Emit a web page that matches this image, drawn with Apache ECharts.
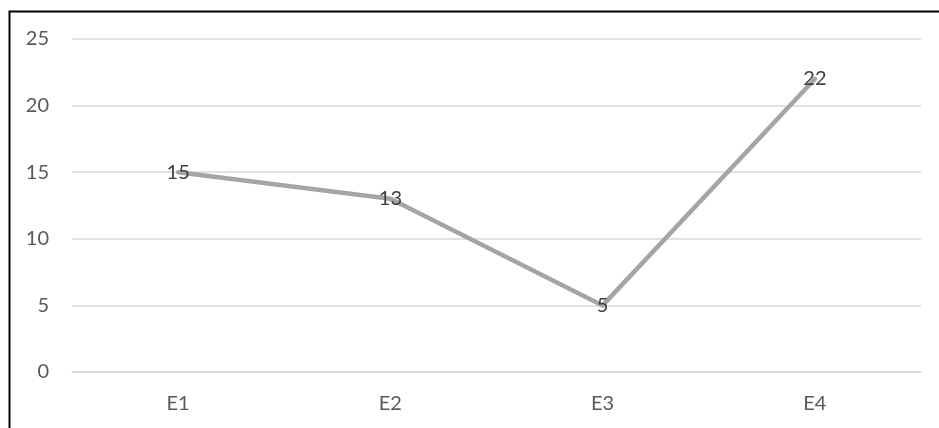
<!DOCTYPE html>
<html>
<head>
<meta charset="utf-8">
<style>
  html, body { margin: 0; padding: 0; background: #ffffff; }
  #chart { width: 939px; height: 428px; }
</style>
<script src="https://cdn.jsdelivr.net/npm/echarts@6/dist/echarts.min.js"></script>
</head>
<body>
<div id="chart"></div>
<script>
// Categories and values of the single line series
const categories = ['E1', 'E2', 'E3', 'E4'];
const values = [15, 13, 5, 22];
const yTicks = { min: 0, max: 25, interval: 5 };

const FONT = 'Lato, "Open Sans", sans-serif';

const chart = echarts.init(document.getElementById('chart'), null, { renderer: 'canvas' });

chart.setOption({
  animation: false,
  backgroundColor: '#ffffff',
  graphic: [
    {
      // frame around the chart area (left and top edges)
      type: 'rect',
      left: 7,
      top: 9,
      shape: { width: 1000, height: 1000 },
      style: { fill: 'none', stroke: '#000000', lineWidth: 2 },
      silent: true
    }
  ],
  grid: { left: 72, right: 18, top: 39, bottom: 56 },
  xAxis: {
    type: 'category',
    data: categories,
    boundaryGap: true,
    axisLine: { show: true, lineStyle: { color: '#d9d9d9', width: 1.5 } },
    axisTick: { show: false },
    axisLabel: { color: '#595959', fontSize: 20, fontFamily: FONT, margin: 22 }
  },
  yAxis: {
    type: 'value',
    min: yTicks.min,
    max: yTicks.max,
    interval: yTicks.interval,
    axisLine: { show: false },
    axisTick: { show: false },
    axisLabel: { color: '#595959', fontSize: 20, fontFamily: FONT, margin: 23 },
    splitLine: { lineStyle: { color: '#d9d9d9', width: 1.5 } }
  },
  series: [
    {
      type: 'line',
      data: values,
      symbol: 'circle',
      symbolSize: 2,
      showSymbol: true,
      itemStyle: { color: 'rgba(165,165,165,0)', borderWidth: 0 },
      lineStyle: { color: '#a5a5a5', width: 4.5, cap: 'round', join: 'round' },
      label: {
        show: true,
        position: 'inside',
        offset: [0, 1],
        color: '#404040',
        fontSize: 20,
        fontFamily: FONT
      },
      labelLayout: { hideOverlap: false }
    }
  ]
});
</script>
</body>
</html>
